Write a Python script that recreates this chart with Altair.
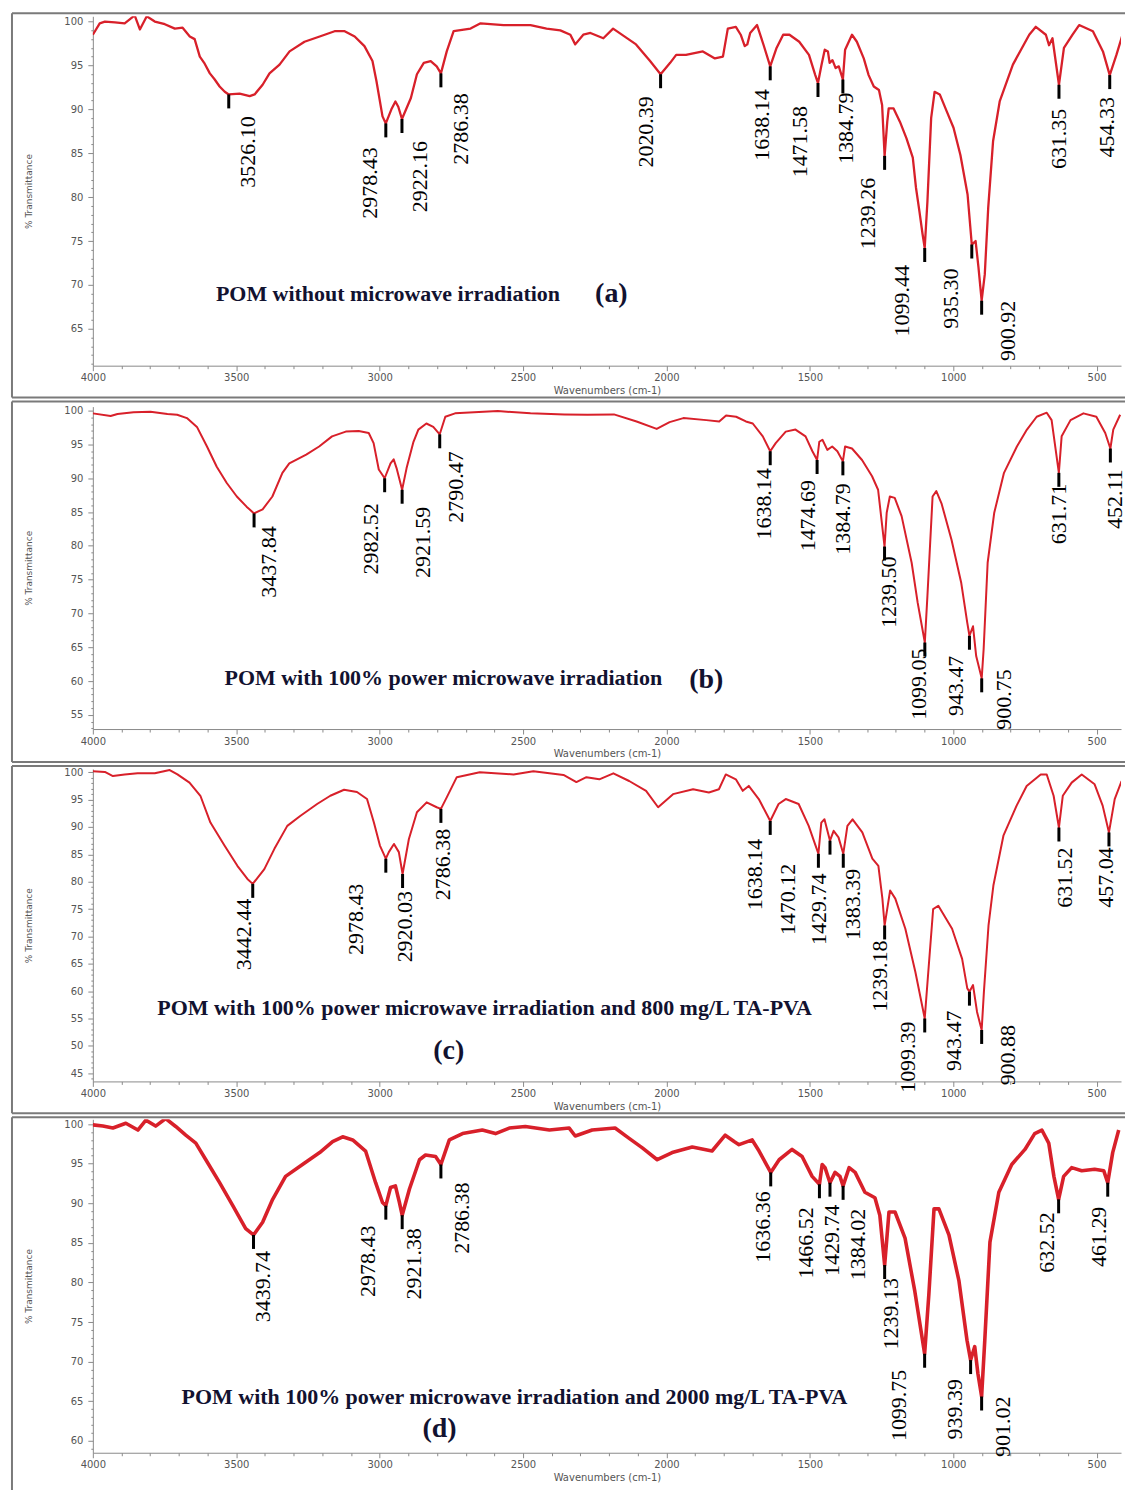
import math
import altair as alt
import pandas as pd

# ---------------------------------------------------------------------------
# FTIR spectra of POM samples (wavenumber in cm-1, % transmittance)
# ---------------------------------------------------------------------------

# (a) POM without microwave irradiation
wn_a = [4000, 3976, 3958, 3923, 3889, 3854, 3836, 3812, 3784, 3749,
        3714, 3687, 3662, 3645, 3627, 3610, 3592, 3575, 3558, 3540,
        3488, 3453, 3436, 3408, 3384, 3349, 3314, 3262, 3209, 3157,
        3122, 3087, 3053, 3025, 3011, 2990, 2959, 2945, 2935, 2891,
        2870, 2846, 2822, 2801, 2766, 2742, 2683, 2648, 2568, 2474,
        2418, 2370, 2335, 2318, 2290, 2265, 2220, 2186, 2106, 2057,
        1987, 1966, 1932, 1873, 1831, 1803, 1786, 1758, 1741, 1727,
        1718, 1708, 1684, 1661, 1616, 1593, 1571, 1537, 1503, 1481,
        1459, 1448, 1437, 1431, 1421, 1410, 1399, 1377, 1353, 1336,
        1312, 1295, 1277, 1259, 1248, 1230, 1225, 1208, 1186, 1163,
        1141, 1130, 1118, 1107, 1090, 1077, 1065, 1047, 1023, 999,
        975, 950, 922, 912, 890, 878, 861, 838, 792, 735,
        712, 677, 666, 654, 614, 584, 561, 513, 478, 431,
        406]
t_a = [98.5, 99.8, 100.0, 99.9, 99.8, 100.7, 99.1, 100.6, 100.0, 99.7,
       99.2, 99.3, 98.3, 98.0, 96.0, 95.2, 94.1, 93.4, 92.6, 92.0,
       91.8, 91.5, 91.7, 92.8, 94.1, 95.1, 96.6, 97.7, 98.3, 98.9,
       98.9, 98.3, 97.2, 95.5, 93.2, 89.2, 90.0, 90.9, 90.3, 91.3,
       94.0, 95.3, 95.5, 94.9, 96.6, 98.9, 99.2, 99.8, 99.6, 99.6,
       99.2, 99.0, 98.5, 97.4, 98.5, 98.7, 98.1, 99.2, 97.4, 95.5,
       95.3, 96.2, 96.2, 96.6, 95.8, 96.0, 99.2, 99.4, 98.5, 97.2,
       97.4, 98.7, 99.6, 97.3, 97.0, 98.5, 98.5, 97.7, 96.2, 93.9,
       95.1, 96.8, 96.6, 95.3, 95.6, 94.7, 94.9, 96.8, 98.5, 97.7,
       95.8, 93.9, 92.6, 92.2, 90.5, 88.6, 90.1, 90.1, 88.6, 86.7,
       84.5, 81.1, 78.4, 75.8, 79.5, 89.0, 92.0, 91.7, 89.8, 87.9,
       84.8, 80.3, 75.0, 72.0, 71.2, 78.8, 86.4, 90.9, 95.1, 98.5,
       99.4, 98.5, 97.3, 98.1, 97.0, 98.5, 99.6, 98.9, 96.6, 96.2,
       98.9]
peak_wn_a = [3526.10, 2978.43, 2922.16, 2786.38, 2020.39, 1638.14, 1471.58,
             1384.79, 1239.26, 1099.44, 935.30, 900.92, 631.35, 454.33]
peak_t_a = [91.7, 88.4, 88.9, 94.1, 94.0, 94.9, 93.0,
            93.4, 84.7, 74.2, 74.6, 68.2, 92.8, 93.9]

# (b) POM with 100% power microwave irradiation
wn_b = [4000, 3938, 3914, 3858, 3799, 3740, 3706, 3672, 3637, 3602,
        3568, 3533, 3498, 3464, 3408, 3374, 3339, 3315, 3256, 3211,
        3166, 3118, 3073, 3038, 3021, 3003, 2962, 2951, 2941, 2906,
        2882, 2865, 2837, 2813, 2771, 2737, 2588, 2474, 2356, 2276,
        2183, 2104, 2034, 1989, 1941, 1861, 1816, 1792, 1757, 1723,
        1699, 1664, 1619, 1584, 1550, 1515, 1491, 1467, 1456, 1439,
        1422, 1404, 1377, 1353, 1318, 1283, 1262, 1232, 1221, 1204,
        1180, 1145, 1124, 1090, 1072, 1059, 1041, 1006, 972, 951,
        931, 920, 894, 880, 857, 823, 778, 743, 709, 674,
        657, 622, 591, 546, 501, 470, 442, 418]
t_b = [99.6, 99.2, 99.5, 99.75, 99.85, 99.5, 99.4, 98.9, 97.6, 94.7,
       91.7, 89.3, 87.3, 85.8, 85.4, 87.3, 90.8, 92.2, 93.5, 94.7,
       96.2, 96.9, 97.0, 96.7, 95.2, 91.3, 92.2, 92.8, 91.5, 91.5,
       95.4, 97.2, 98.1, 97.6, 99.1, 99.6, 99.95, 99.6, 99.45, 99.4,
       99.45, 98.4, 97.3, 98.3, 98.9, 98.6, 98.4, 99.3, 99.1, 98.4,
       98.1, 96.2, 95.2, 96.9, 97.2, 96.2, 94.0, 95.4, 95.7, 94.2,
       94.7, 94.0, 94.7, 94.4, 92.7, 90.3, 88.3, 84.9, 87.3, 87.1,
       84.4, 77.5, 71.6, 72.6, 87.3, 88.1, 86.3, 80.9, 74.5, 68.6,
       68.1, 63.7, 64.7, 77.5, 84.9, 90.8, 94.7, 97.2, 99.1, 99.7,
       98.6, 96.2, 98.6, 99.6, 99.1, 96.7, 97.2, 99.4]
peak_wn_b = [3437.84, 2982.52, 2921.59, 2790.47, 1638.14, 1474.69, 1384.79,
             1239.50, 1099.05, 943.47, 900.75, 631.71, 452.11]
peak_t_b = [84.8, 90.0, 88.3, 96.5, 94.0, 92.7, 92.5,
            79.9, 65.7, 66.7, 60.4, 90.8, 94.4]

# (c) POM with 100% power microwave irradiation and 800 mg/L TA-PVA
wn_c = [4000, 3958, 3930, 3889, 3844, 3784, 3732, 3705, 3663, 3625,
        3590, 3541, 3496, 3461, 3402, 3367, 3322, 3277, 3218, 3172,
        3124, 3079, 3044, 3020, 2999, 2968, 2950, 2933, 2898, 2870,
        2836, 2801, 2766, 2731, 2651, 2533, 2464, 2359, 2314, 2279,
        2234, 2185, 2130, 2071, 2029, 1977, 1907, 1852, 1817, 1793,
        1758, 1734, 1713, 1678, 1647, 1609, 1584, 1539, 1504, 1480,
        1460, 1449, 1417, 1400, 1369, 1351, 1317, 1282, 1261, 1247,
        1220, 1202, 1167, 1132, 1087, 1070, 1052, 1004, 969, 951,
        931, 917, 893, 877, 860, 825, 779, 744, 695, 674,
        650, 618, 587, 552, 507, 479, 437, 413]
t_c = [100.2, 100.05, 99.3, 99.6, 99.8, 99.8, 100.4, 99.6, 98.1, 95.7,
       90.8, 86.6, 82.9, 80.5, 82.3, 86.0, 90.2, 92.0, 94.2, 95.7,
       96.8, 96.4, 95.1, 90.8, 86.6, 85.4, 86.9, 85.4, 87.8, 92.7,
       94.5, 93.6, 95.4, 99.1, 100.0, 99.6, 100.2, 99.5, 98.2, 99.1,
       98.7, 99.8, 98.4, 96.6, 93.6, 96.0, 96.9, 96.3, 96.9, 99.6,
       98.7, 96.6, 97.5, 95.1, 92.0, 94.2, 95.1, 94.2, 90.2, 86.6,
       90.8, 91.4, 89.3, 88.1, 90.2, 91.4, 89.0, 84.2, 82.9, 76.9,
       78.4, 76.9, 71.4, 63.5, 63.5, 75.0, 75.6, 71.4, 65.9, 60.5,
       61.1, 56.2, 59.9, 72.0, 79.3, 88.4, 93.9, 97.5, 99.6, 99.6,
       95.7, 95.7, 98.1, 99.6, 97.8, 93.9, 95.1, 98.4]
peak_wn_c = [3442.44, 2978.43, 2920.03, 2786.38, 1638.14, 1470.12, 1429.74,
             1383.39, 1239.18, 1099.39, 943.47, 900.88, 631.52, 457.04]
peak_t_c = [79.6, 84.2, 81.4, 93.3, 91.1, 85.1, 87.5,
            85.1, 72.0, 55.0, 59.9, 52.9, 89.9, 89.0]

# (d) POM with 100% power microwave irradiation and 2000 mg/L TA-PVA
wn_d = [4000, 3965, 3930, 3885, 3843, 3815, 3781, 3746, 3711, 3676,
        3641, 3606, 3558, 3512, 3467, 3408, 3373, 3328, 3269, 3209,
        3164, 3129, 3094, 3049, 3014, 2990, 2962, 2945, 2931, 2896,
        2861, 2840, 2805, 2757, 2711, 2642, 2596, 2548, 2492, 2408,
        2339, 2318, 2259, 2179, 2130, 2084, 2032, 1980, 1910, 1841,
        1795, 1764, 1747, 1701, 1677, 1607, 1562, 1527, 1492, 1457,
        1447, 1412, 1395, 1363, 1342, 1308, 1273, 1256, 1224, 1203,
        1168, 1134, 1085, 1067, 1050, 1015, 980, 952, 925, 914,
        890, 872, 841, 796, 750, 716, 691, 667, 649, 615,
        587, 552, 507, 475, 444, 423]
t_d = [99.9, 99.75, 99.5, 100.1, 99.25, 100.5, 99.75, 100.7, 99.7, 98.6,
       97.6, 95.5, 92.6, 89.7, 86.8, 87.6, 90.5, 93.4, 94.9, 96.4,
       97.8, 98.4, 98.0, 96.6, 92.6, 90.1, 92.0, 92.2, 90.1, 91.8,
       95.5, 96.1, 95.9, 98.0, 98.8, 99.25, 98.8, 99.5, 99.7, 99.25,
       99.5, 98.5, 99.25, 99.5, 98.2, 97.0, 95.5, 96.4, 97.1, 96.6,
       98.6, 97.8, 97.4, 98.0, 96.6, 95.5, 96.8, 95.9, 93.4, 94.9,
       94.5, 93.9, 93.4, 94.5, 93.9, 91.4, 90.7, 88.5, 88.9, 88.9,
       85.6, 78.9, 78.5, 89.3, 89.3, 86.0, 80.2, 72.7, 71.9, 68.5,
       72.7, 85.1, 91.4, 94.9, 96.8, 98.8, 99.25, 97.6, 93.4, 93.4,
       94.5, 94.1, 94.3, 94.1, 96.4, 99.25]
peak_wn_d = [3439.74, 2978.43, 2921.38, 2786.38, 1636.36, 1466.52, 1429.74,
             1384.02, 1239.13, 1099.75, 939.39, 901.02, 632.52, 461.29]
peak_t_d = [86.0, 89.7, 88.5, 94.9, 93.9, 92.4, 92.6,
            92.2, 82.2, 71.0, 70.2, 65.6, 90.5, 92.6]

# Peak-label nudges in pixels: sideways (right +) and down from the peak
shift_a = [19, -16, 18, 20, -15, -8, -18, 3, -17, -23, -21, 26, 0, -3]
drop_a = [22, 24, 22, 20, 22, 23, 23, 13, 22, 17, 24, 0, 24, 22]
shift_b = [15, -14, 21, 16, -6, -9, 0, 4, -6, -13, 22, 0, 5]
drop_b = [13, 25, 17, 17, 17, 20, 22, 10, 6, 20, -9, 11, 21]
shift_c = [-9, -30, 2, 2, -15, -30, -11, 10, -5, -17, -15, 26, 6, -3]
drop_c = [15, 25, 17, 20, 18, 10, 33, 15, 15, 3, 19, -5, 20, 15]
shift_d = [10, -18, 12, 21, -8, -13, 2, 15, 6, -26, -16, 21, -12, -9]
drop_d = [16, 20, 13, 18, 19, 23, 22, 23, 13, 16, 19, 0, 13, 24]

# Sample captions (text, wavenumber, %T, font size)
notes_a = [("POM without microwave irradiation", 2971, 69.0, 22),
           ("(a)", 2192, 69.0, 28)]
notes_b = [("POM with 100% power microwave irradiation", 2778, 60.5, 22),
           ("(b)", 1861, 60.2, 28)]
notes_c = [("POM with 100% power microwave irradiation and 800 mg/L TA-PVA", 2634, 57.0, 22),
           ("(c)", 2759, 49.0, 28)]
notes_d = [("POM with 100% power microwave irradiation and 2000 mg/L TA-PVA", 2530, 65.6, 22),
           ("(d)", 2791, 61.5, 28)]

# ---------------------------------------------------------------------------
RED = "#d8202a"
INK = "#121230"
AXIS_GRAY = "#8a8a8a"
FRAME_GRAY = "#7a7a7a"
W = 1030
X_LEFT, X_RIGHT = 4000, 415
Y_TOP = 100.6
TICK_LEN = 14


def panel(wn, t, pk_wn, pk_t, shift, drop, notes, ymin, height,
          frame_top, frame_bottom, stroke_w, bottom_edge=True):
    ppx = W / (X_LEFT - X_RIGHT)
    ppy = height / (Y_TOP - ymin)

    curve = pd.DataFrame({"wn": list(wn) + list(pk_wn),
                          "t": list(t) + list(pk_t)}).sort_values("wn")
    pk = pd.DataFrame({"wn": pk_wn, "t": pk_t, "shift": shift, "drop": drop})
    pk["t2"] = pk["t"] - TICK_LEN / ppy
    pk["lx"] = pk["wn"] - pk["shift"] / ppx
    pk["ly"] = pk["t"] - pk["drop"] / ppy
    nt = pd.DataFrame(notes, columns=["txt", "wn", "t", "fs"])

    xs = alt.Scale(domain=[X_LEFT, X_RIGHT], nice=False, zero=False)
    ys = alt.Scale(domain=[ymin, Y_TOP], nice=False, zero=False)
    x_axis = alt.Axis(
        values=list(range(4000, 499, -100)),
        labelExpr="datum.value % 500 === 0 ? datum.label : ''",
        format="d", grid=False, labelOverlap=False, labelFlush=False,
        tickSize={"condition": {"test": "datum.value % 500 === 0", "value": 5}, "value": 3},
        domainColor=AXIS_GRAY, tickColor=AXIS_GRAY, labelColor="#555555",
        labelFont="DejaVu Sans", labelFontSize=10, labelPadding=2,
        titleFont="DejaVu Sans", titleFontSize=10, titleFontWeight="normal",
        titleColor="#555555", titlePadding=3,
    )
    y_axis = alt.Axis(
        values=list(range(math.ceil(ymin), 101)),
        labelExpr="datum.value % 5 === 0 ? datum.label : ''",
        format="d", grid=False, labelOverlap=False, labelFlush=False,
        tickSize={"condition": {"test": "datum.value % 5 === 0", "value": 5}, "value": 2},
        domainColor=AXIS_GRAY, tickColor=AXIS_GRAY, labelColor="#555555",
        labelFont="DejaVu Sans", labelFontSize=10, labelPadding=5,
        titleFont="DejaVu Sans", titleFontSize=9, titleFontWeight="normal",
        titleColor="#555555", titlePadding=30,
    )

    def X(f):
        return alt.X(f"{f}:Q", scale=xs, axis=x_axis, title="Wavenumbers (cm-1)")

    def Y(f):
        return alt.Y(f"{f}:Q", scale=ys, axis=y_axis, title="% Transmittance")

    line = alt.Chart(curve).mark_line(color=RED, strokeWidth=stroke_w, clip=True,
                                      strokeJoin="round").encode(x=X("wn"), y=Y("t"))
    ticks = alt.Chart(pk).mark_rule(color="black", strokeWidth=3).encode(
        x=X("wn"), y=Y("t"), y2="t2:Q")
    labels = alt.Chart(pk).mark_text(
        angle=270, align="right", baseline="middle", font="Liberation Serif",
        fontSize=22, color="black").encode(
        x=X("lx"), y=Y("ly"), text=alt.Text("wn:Q", format=".2f"))
    captions = alt.Chart(nt).mark_text(
        font="Liberation Serif", fontWeight="bold", color=INK,
        align="center", baseline="middle").encode(
        x=X("wn"), y=Y("t"), text="txt:N",
        size=alt.Size("fs:Q", scale=None, legend=None))

    one = pd.DataFrame({"k": [0]})

    def edge(x1, x2, y1, y2):
        return alt.Chart(one).mark_rule(color=FRAME_GRAY, strokeWidth=2).encode(
            x=alt.value(x1), x2=alt.value(x2), y=alt.value(y1), y2=alt.value(y2))

    frame = [edge(-81, W + 4, frame_top, frame_top),
             edge(-81, -81, frame_top, height + frame_bottom)]
    if bottom_edge:
        frame.append(edge(-81, W + 4, height + frame_bottom, height + frame_bottom))

    return alt.layer(line, ticks, labels, captions, *frame).properties(
        width=W, height=height)


pa = panel(wn_a, t_a, peak_wn_a, peak_t_a, shift_a, drop_a, notes_a,
           60.8, 350, -3, 32, 2.3)
pb = panel(wn_b, t_b, peak_wn_b, peak_t_b, shift_b, drop_b, notes_b,
           52.9, 323, -5, 33, 2.0)
pc = panel(wn_c, t_c, peak_wn_c, peak_t_c, shift_c, drop_c, notes_c,
           43.5, 313, -3, 32, 2.0)
pd_ = panel(wn_d, t_d, peak_wn_d, peak_t_d, shift_d, drop_d, notes_d,
            58.5, 334, -2, 40, 3.6, bottom_edge=False)

chart = alt.vconcat(pa, pb, pc, pd_, spacing=2).resolve_scale(
    x="independent", y="independent").properties(
    padding={"left": 11, "top": 11, "right": 0, "bottom": 0},
    background="white").configure_view(stroke=None)

chart.save("out.html", embed_options={"renderer": "svg", "actions": False})
